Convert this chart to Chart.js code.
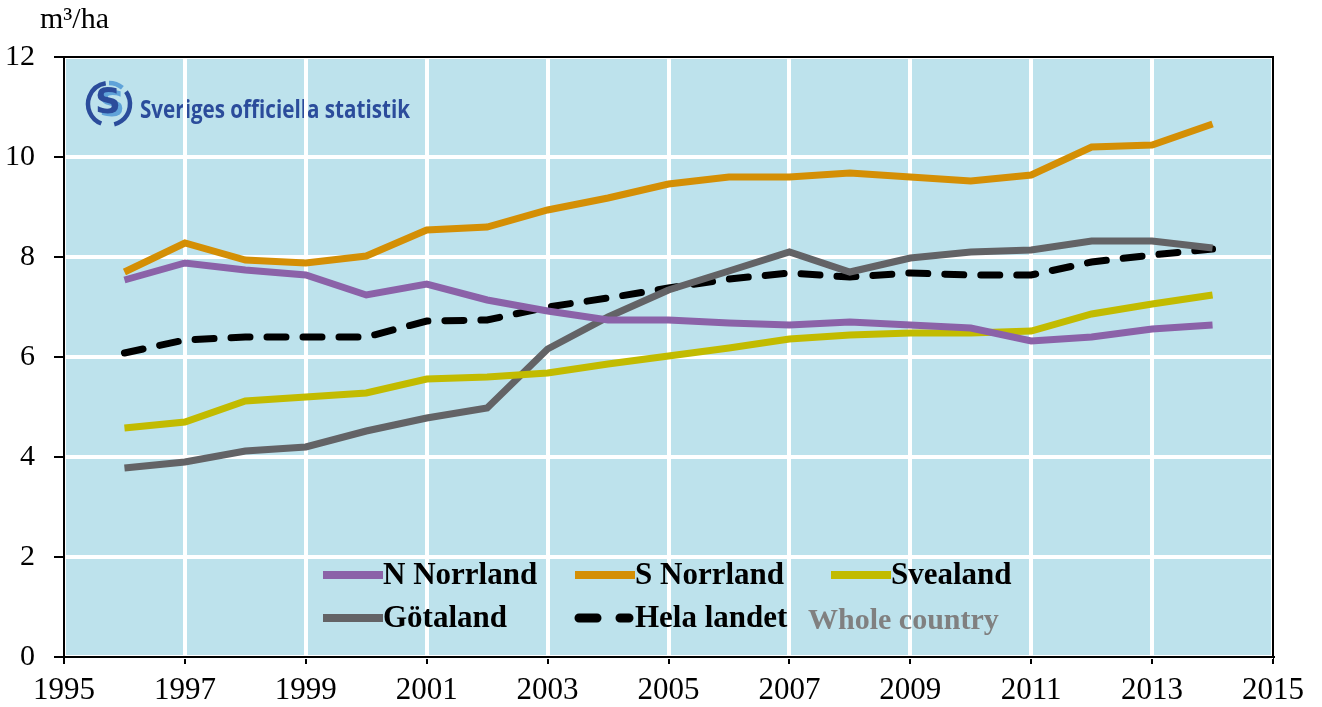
<!DOCTYPE html>
<html>
<head>
<meta charset="utf-8">
<script src="https://cdn.jsdelivr.net/npm/chart.js@4.4.1/dist/chart.umd.min.js"></script>
<style>
  html, body { margin: 0; padding: 0; background: #fff; }
  #wrap { width: 1322px; height: 707px; position: relative; }
</style>
</head>
<body>
<div id="wrap"><canvas id="chart" width="1322" height="707"></canvas></div>
<script>
/* ======================================================
   DATA
====================================================== */
const years = [1996, 1997, 1998, 1999, 2000, 2001, 2002, 2003, 2004, 2005, 2006, 2007, 2008, 2009, 2010, 2011, 2012, 2013, 2014];

const nNorrland = [7.54, 7.88, 7.74, 7.64, 7.24, 7.46, 7.14, 6.92, 6.74, 6.74, 6.68, 6.64, 6.70, 6.64, 6.58, 6.32, 6.40, 6.56, 6.64];
const sNorrland = [7.70, 8.28, 7.94, 7.88, 8.02, 8.54, 8.60, 8.94, 9.18, 9.46, 9.60, 9.60, 9.68, 9.60, 9.52, 9.64, 10.20, 10.24, 10.66];
const svealand  = [4.58, 4.70, 5.12, 5.20, 5.28, 5.56, 5.60, 5.68, 5.86, 6.02, 6.18, 6.36, 6.44, 6.48, 6.48, 6.52, 6.86, 7.06, 7.24];
const gotaland  = [3.78, 3.90, 4.12, 4.20, 4.52, 4.78, 4.98, 6.16, 6.80, 7.34, 7.72, 8.10, 7.70, 7.98, 8.10, 8.14, 8.32, 8.32, 8.18];
const helaLandet = [6.08, 6.34, 6.40, 6.40, 6.40, 6.72, 6.74, 7.00, 7.18, 7.38, 7.56, 7.68, 7.60, 7.68, 7.64, 7.64, 7.90, 8.04, 8.16];

const seriesNames = ["N Norrland", "S Norrland", "Svealand", "Götaland", "Hela landet"];
const yTicks = [0, 2, 4, 6, 8, 10, 12];
const xTicks = [1995, 1997, 1999, 2001, 2003, 2005, 2007, 2009, 2011, 2013, 2015];

/* ======================================================
   COLOURS
====================================================== */
const COLORS = {
  nNorrland: "#8b62a8",
  sNorrland: "#d48f05",
  svealand: "#c2bb00",
  gotaland: "#636366",
  hela: "#000000",
  bg: "#bde2ec",
  sos: "#2b4c9b",
  sosLight: "#5fa3d9"
};

const SERIF = "'Liberation Serif', 'Times New Roman', serif";

function pts(vals) {
  return vals.map((v, i) => ({ x: years[i], y: v }));
}

function ds(label, vals, color, dash) {
  return {
    label,
    data: pts(vals),
    borderColor: color,
    backgroundColor: color,
    borderWidth: 7,
    borderDash: dash || [],
    borderCapStyle: dash ? "round" : "butt",
    borderJoinStyle: "miter",
    pointRadius: 0,
    tension: 0
  };
}

/* ======================================================
   PLUGINS
====================================================== */
const backgroundPlugin = {
  id: "bg",
  beforeDraw(chart) {
    const { ctx, chartArea: a } = chart;
    ctx.save();
    ctx.fillStyle = COLORS.bg;
    ctx.fillRect(a.left, a.top, a.right - a.left, a.bottom - a.top);

    // unit label
    ctx.fillStyle = "#000";
    ctx.font = "30px " + SERIF;
    ctx.textBaseline = "alphabetic";
    ctx.textAlign = "left";
    ctx.fillText("m³/ha", 40, 28);

    // SOS logo
    const cx = 109, cy = 104, r = 21;
    ctx.lineWidth = 4.5;
    ctx.strokeStyle = COLORS.sos;
    ctx.beginPath();
    ctx.arc(cx, cy, r, Math.PI * 0.62, Math.PI * 1.45);
    ctx.stroke();
    ctx.beginPath();
    ctx.arc(cx, cy, r, Math.PI * 1.8, Math.PI * 0.42);
    ctx.stroke();
    ctx.strokeStyle = COLORS.sosLight;
    ctx.beginPath();
    ctx.arc(cx, cy, r, Math.PI * 1.5, Math.PI * 1.72);
    ctx.stroke();
    ctx.font = "bold 36px 'DejaVu Sans'";
    ctx.textAlign = "center";
    ctx.textBaseline = "middle";
    ctx.fillStyle = COLORS.sosLight;
    ctx.fillText("S", cx + 3, cy + 3);
    ctx.fillStyle = COLORS.sos;
    ctx.fillText("S", cx - 1, cy);

    ctx.font = "bold 25px 'Open Sans'";
    ctx.textAlign = "left";
    ctx.textBaseline = "alphabetic";
    const txt = "Sveriges officiella statistik";
    const w = ctx.measureText(txt).width;
    ctx.translate(140, 118);
    ctx.scale(270 / w, 1);
    ctx.fillStyle = COLORS.sos;
    ctx.fillText(txt, 0, 0);
    ctx.restore();
  }
};

const legendPlugin = {
  id: "customLegend",
  afterDatasetsDraw(chart) {
    const { ctx } = chart;
    const items = chart.data.datasets;
    const slots = [
      { x: 323, y: 575 }, { x: 575, y: 575 }, { x: 831, y: 575 },
      { x: 323, y: 618 }, { x: 575, y: 618 }
    ];
    ctx.save();
    ctx.font = "bold 31px " + SERIF;
    ctx.textBaseline = "middle";
    ctx.textAlign = "left";
    items.forEach((d, i) => {
      const s = slots[i];
      const dashed = d.borderDash.length > 0;
      ctx.strokeStyle = d.borderColor;
      ctx.lineWidth = dashed ? 9 : 8;
      ctx.setLineDash(dashed ? [18, 23] : []);
      ctx.lineCap = dashed ? "round" : "butt";
      ctx.beginPath();
      if (dashed) {
        ctx.moveTo(s.x + 4, s.y);
        ctx.lineTo(s.x + 54, s.y);
      } else {
        ctx.moveTo(s.x, s.y);
        ctx.lineTo(s.x + 60, s.y);
      }
      ctx.stroke();
      ctx.fillStyle = "#000";
      ctx.fillText(d.label, s.x + 60, s.y + 1);
    });
    ctx.font = "bold 30px " + SERIF;
    ctx.fillStyle = "#808080";
    ctx.fillText("Whole country", 808, 621);
    ctx.restore();
  },
  afterDraw(chart) {
    const { ctx, chartArea: a } = chart;
    ctx.save();
    ctx.strokeStyle = "#000";
    ctx.lineWidth = 2;
    ctx.strokeRect(a.left, a.top, a.right - a.left, a.bottom - a.top);
    ctx.restore();
  }
};

/* ======================================================
   CHART
====================================================== */
new Chart(document.getElementById("chart"), {
  type: "line",
  data: {
    datasets: [
      ds(seriesNames[0], nNorrland, COLORS.nNorrland),
      ds(seriesNames[1], sNorrland, COLORS.sNorrland),
      ds(seriesNames[2], svealand, COLORS.svealand),
      ds(seriesNames[3], gotaland, COLORS.gotaland),
      ds(seriesNames[4], helaLandet, COLORS.hela, [19, 17])
    ]
  },
  options: {
    responsive: false,
    animation: false,
    layout: { padding: { top: 57, right: 49, left: 0, bottom: 0 } },
    plugins: { legend: { display: false }, tooltip: { enabled: false } },
    scales: {
      x: {
        type: "linear",
        min: 1995,
        max: 2015,
        afterBuildTicks(scale) { scale.ticks = xTicks.map(v => ({ value: v })); },
        afterFit(scale) { scale.height = 50; },
        ticks: {
          font: { family: SERIF, size: 31 },
          color: "#000",
          padding: 8,
          maxRotation: 0,
          autoSkip: false,
          callback: v => String(v)
        },
        grid: { color: "#fff", lineWidth: 4, tickColor: "#000", tickLength: 7, tickWidth: 2 },
        border: { color: "#000", width: 2 }
      },
      y: {
        min: 0,
        max: 12,
        afterBuildTicks(scale) { scale.ticks = yTicks.map(v => ({ value: v })); },
        afterFit(scale) { scale.width = 64; },
        ticks: {
          font: { family: SERIF, size: 30 },
          color: "#000",
          padding: 19,
          autoSkip: false
        },
        grid: { color: "#fff", lineWidth: 4, tickColor: "#000", tickLength: 10, tickWidth: 2 },
        border: { color: "#000", width: 2 }
      }
    }
  },
  plugins: [backgroundPlugin, legendPlugin]
});
</script>
</body>
</html>
